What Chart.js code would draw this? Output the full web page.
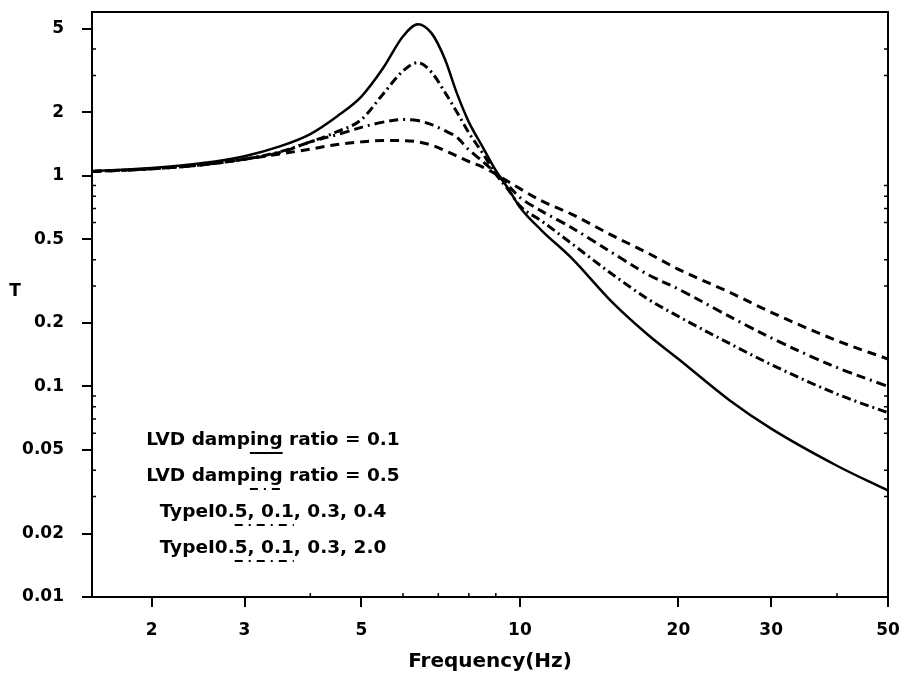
<!DOCTYPE html>
<html>
<head>
<meta charset="utf-8">
<script src="https://cdn.jsdelivr.net/npm/chart.js@4"></script>
<style>
  html, body { margin: 0; padding: 0; background: #fff; }
  #wrap { width: 901px; height: 677px; }
</style>
</head>
<body>
<div id="wrap"><canvas id="tChart"></canvas></div>
<script>
// Frequency (Hz) shared by all curves
const freq = [1.54, 2, 2.5, 3, 3.5, 4, 4.5, 5, 5.5, 6, 6.4, 6.8, 7.2, 7.6, 8, 8.5, 9, 9.5, 10, 11, 12.5, 15, 17.5, 20, 25, 30, 40, 50];

// Transmissibility T
const lvd01 = [1.05, 1.09, 1.15, 1.24, 1.38, 1.58, 1.92, 2.38, 3.25, 4.6, 5.25, 4.75, 3.6, 2.45, 1.8, 1.37, 1.06, 0.87, 0.71, 0.55, 0.41, 0.25, 0.176, 0.135, 0.086, 0.063, 0.042, 0.032];
const lvd05 = [1.05, 1.08, 1.13, 1.2, 1.27, 1.34, 1.41, 1.45, 1.47, 1.47, 1.45, 1.4, 1.32, 1.24, 1.17, 1.1, 1.02, 0.94, 0.87, 0.76, 0.66, 0.52, 0.43, 0.36, 0.28, 0.225, 0.165, 0.135];
const type1a = [1.05, 1.08, 1.13, 1.2, 1.3, 1.45, 1.62, 1.85, 2.45, 3.15, 3.45, 3.1, 2.5, 2.0, 1.6, 1.28, 1.02, 0.86, 0.72, 0.61, 0.48, 0.34, 0.26, 0.215, 0.16, 0.127, 0.092, 0.075];
const type1b = [1.05, 1.08, 1.13, 1.2, 1.29, 1.45, 1.57, 1.7, 1.8, 1.85, 1.83, 1.75, 1.64, 1.52, 1.33, 1.17, 1.03, 0.9, 0.79, 0.68, 0.57, 0.43, 0.34, 0.29, 0.215, 0.17, 0.123, 0.1];

const xTicks = [2, 3, 5, 10, 20, 30, 50];
const yTicks = [0.01, 0.02, 0.05, 0.1, 0.2, 0.5, 1, 2, 5];
const yMinor = [0.03, 0.04, 0.06, 0.07, 0.08, 0.09, 0.3, 0.4, 0.6, 0.7, 0.8, 0.9, 3, 4];
const xMinor = [4, 6, 7, 8, 9, 40];

const legendText = [
  'LVD damping ratio = 0.1',
  'LVD damping ratio = 0.5',
  'TypeⅠ0.5, 0.1, 0.3, 0.4',
  'TypeⅠ0.5, 0.1, 0.3, 2.0'
];
const legendMark = ['ing', 'ing', '5, 0.1', '5, 0.1'];

const FONT = '"DejaVu Sans", Verdana, sans-serif';
const dashes = [[], [9, 6], [9, 4, 2, 4], [10, 5, 9, 5, 2, 5]];

function pts(ys) {
  return freq.map((f, i) => ({ x: f, y: ys[i] }));
}

const overlay = {
  id: 'overlay',
  afterDraw(chart) {
    const { ctx, chartArea: a, scales } = chart;
    ctx.save();
    ctx.strokeStyle = '#000';
    ctx.lineWidth = 2;
    ctx.setLineDash([]);
    ctx.strokeRect(a.left, a.top, a.right - a.left, a.bottom - a.top);

    // small inner ticks
    ctx.lineWidth = 1.5;
    ctx.beginPath();
    yMinor.forEach(v => {
      const y = scales.y.getPixelForValue(v);
      ctx.moveTo(a.left, y); ctx.lineTo(a.left + 4, y);
      ctx.moveTo(a.right, y); ctx.lineTo(a.right - 4, y);
    });
    xMinor.forEach(v => {
      const x = scales.x.getPixelForValue(v);
      ctx.moveTo(x, a.bottom); ctx.lineTo(x, a.bottom - 4);
    });
    ctx.stroke();

    ctx.fillStyle = '#000';
    ctx.font = 'bold 17px ' + FONT;
    ctx.textAlign = 'center';
    ctx.textBaseline = 'middle';
    ctx.fillText('T', 15, 292);

    // legend block
    const cx = 273;
    const ys = [440, 476, 512, 548];
    ctx.font = 'bold 18.5px ' + FONT;
    ctx.textAlign = 'left';
    legendText.forEach((t, i) => {
      const w = ctx.measureText(t).width;
      const x0 = cx - w / 2;
      ctx.fillText(t, x0, ys[i]);
      const k = t.indexOf(legendMark[i]);
      const s = x0 + ctx.measureText(t.slice(0, k)).width;
      const e = s + ctx.measureText(legendMark[i]).width;
      ctx.beginPath();
      ctx.lineWidth = 2;
      ctx.setLineDash(dashes[i].length ? [8, 6, 2, 6] : []);
      ctx.moveTo(s, ys[i] + 13);
      ctx.lineTo(e, ys[i] + 13);
      ctx.stroke();
    });
    ctx.restore();
  }
};

const series = [lvd01, lvd05, type1a, type1b];

new Chart(document.getElementById('tChart'), {
  type: 'line',
  data: {
    datasets: series.map((s, i) => ({
      label: legendText[i],
      data: pts(s),
      borderColor: '#000',
      borderWidth: i === 0 ? 2.5 : 3,
      borderDash: dashes[i],
      pointRadius: 0,
      fill: false,
      cubicInterpolationMode: 'monotone'
    }))
  },
  options: {
    responsive: true,
    maintainAspectRatio: false,
    animation: false,
    layout: { padding: { left: 0, right: 13, top: 12, bottom: 0 } },
    plugins: {
      legend: { display: false },
      tooltip: { enabled: false }
    },
    scales: {
      x: {
        type: 'logarithmic',
        min: 1.54,
        max: 50,
        afterBuildTicks: scale => { scale.ticks = xTicks.map(v => ({ value: v })); },
        afterFit: scale => { scale.height = 80; scale.paddingLeft = 0; scale.paddingRight = 0; },
        ticks: {
          color: '#000',
          font: { family: FONT, size: 17, weight: 'bold' },
          padding: 13,
          maxRotation: 0,
          autoSkip: false,
          callback: v => String(v)
        },
        grid: { drawOnChartArea: false, color: '#000', lineWidth: 2, tickLength: 10 },
        border: { color: '#000', width: 2 },
        title: {
          display: true,
          text: 'Frequency(Hz)',
          color: '#000',
          font: { family: FONT, size: 20, weight: 'bold' },
          padding: { top: 0, bottom: 3 }
        }
      },
      y: {
        type: 'logarithmic',
        min: 0.01,
        max: 6,
        afterBuildTicks: scale => { scale.ticks = yTicks.map(v => ({ value: v })); },
        afterFit: scale => { scale.width = 92; scale.paddingTop = 0; scale.paddingBottom = 0; },
        ticks: {
          color: '#000',
          font: { family: FONT, size: 17, weight: 'bold' },
          padding: 18,
          autoSkip: false,
          callback: v => String(v)
        },
        grid: { drawOnChartArea: false, color: '#000', lineWidth: 2, tickLength: 10 },
        border: { color: '#000', width: 2 }
      }
    }
  },
  plugins: [overlay]
});
</script>
</body>
</html>
